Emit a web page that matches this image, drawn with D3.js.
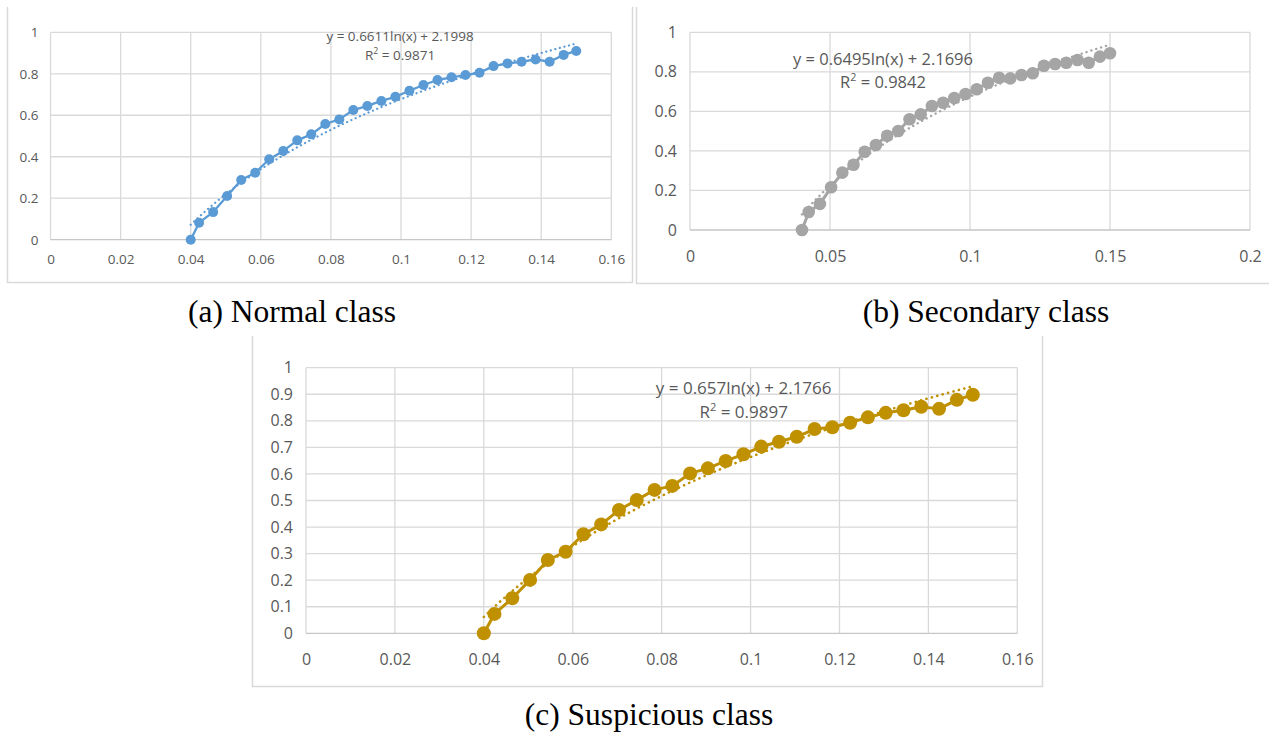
<!DOCTYPE html>
<html><head><meta charset="utf-8">
<script src="https://cdn.jsdelivr.net/npm/d3@7"></script>
<style>
html,body{margin:0;padding:0;background:#fff;}
svg{display:block;}
.tick text{fill:#595959;font-family:"Open Sans",sans-serif;}
</style></head>
<body>
<svg id="chart" width="1269" height="734"></svg>
<script>
// ---- data ----
const xValues = [0.04,0.0424,0.0464,0.0504,0.0544,0.0584,0.0624,0.0664,0.0704,0.0744,
  0.0784,0.0824,0.0864,0.0904,0.0944,0.0984,0.1024,0.1064,0.1104,0.1144,
  0.1184,0.1224,0.1264,0.1304,0.1344,0.1384,0.1424,0.1464,0.15];
const normalY = [0,0.082,0.133,0.211,0.288,0.323,0.388,0.428,0.479,0.508,
  0.558,0.580,0.625,0.645,0.669,0.689,0.718,0.746,0.770,0.783,
  0.794,0.805,0.837,0.850,0.858,0.869,0.858,0.891,0.910];
const secondaryY = [0,0.091,0.132,0.216,0.290,0.330,0.396,0.430,0.477,0.501,
  0.560,0.585,0.627,0.644,0.668,0.688,0.712,0.745,0.770,0.767,
  0.784,0.793,0.831,0.840,0.846,0.860,0.846,0.877,0.894];
const suspiciousY = [0,0.073,0.132,0.201,0.276,0.307,0.373,0.410,0.464,0.502,
  0.540,0.555,0.602,0.621,0.649,0.674,0.703,0.721,0.740,0.769,
  0.776,0.793,0.813,0.830,0.840,0.853,0.845,0.879,0.898];
// trendline coefficients (y = a ln(x) + b) and R² as printed
const normalFit = [0.6611, 2.1998], normalR2 = "0.9871";
const secondaryFit = [0.6495, 2.1696], secondaryR2 = "0.9842";
const suspiciousFit = [0.657, 2.1766], suspiciousR2 = "0.9897";
const trendRange = [0.04, 0.15];
// tick values
const xTicksA = [0,0.02,0.04,0.06,0.08,0.1,0.12,0.14,0.16];
const yTicksA = [0,0.2,0.4,0.6,0.8,1];
const xTicksB = [0,0.05,0.1,0.15,0.2];
const yTicksB = [0,0.2,0.4,0.6,0.8,1];
const xTicksC = [0,0.02,0.04,0.06,0.08,0.1,0.12,0.14,0.16];
const yTicksC = [0,0.1,0.2,0.3,0.4,0.5,0.6,0.7,0.8,0.9,1];
const captions = ["(a) Normal class","(b) Secondary class","(c) Suspicious class"];

const svg = d3.select("#chart");
const fmt = d => String(+d.toFixed(2));

// panel frames
const frame = svg.append("g").attr("fill","none").attr("stroke","#d9d9d9").attr("stroke-width",1.5);
frame.append("path").attr("d","M7.5,7 V282.5 H632.5 V7");
frame.append("path").attr("d","M636.5,7 V283.5 H1269");
frame.append("path").attr("d","M252.5,336 V686.5 H1042.5 V336");

function panel(cfg){
  const g = svg.append("g");
  const x = d3.scaleLinear().domain([cfg.xTicks[0], cfg.xTicks[cfg.xTicks.length-1]]).range([cfg.left, cfg.right]);
  const y = d3.scaleLinear().domain([0,1]).range([cfg.bottom, cfg.top]);
  // gridlines
  g.append("g").selectAll("line").data(cfg.xTicks).join("line")
    .attr("x1",d=>x(d)).attr("x2",d=>x(d)).attr("y1",cfg.top).attr("y2",cfg.bottom)
    .attr("stroke","#d9d9d9").attr("stroke-width",1.3);
  g.append("g").selectAll("line").data(cfg.yTicks).join("line")
    .attr("x1",cfg.left).attr("x2",cfg.right).attr("y1",d=>y(d)).attr("y2",d=>y(d))
    .attr("stroke", d=> d===0 ? "#c6c6c6" : "#d9d9d9").attr("stroke-width",1.3);
  // axes labels
  const xa = g.append("g").attr("transform",`translate(0,${cfg.bottom})`)
    .call(d3.axisBottom(x).tickValues(cfg.xTicks).tickFormat(fmt).tickSize(0).tickPadding(cfg.xPad));
  const ya = g.append("g").attr("transform",`translate(${cfg.left},0)`)
    .call(d3.axisLeft(y).tickValues(cfg.yTicks).tickFormat(fmt).tickSize(0).tickPadding(cfg.yPad));
  [xa,ya].forEach(a=>{a.select(".domain").remove(); a.selectAll("text").style("font-size",cfg.tickFont+"px");});
  // series
  const pts = xValues.map((v,i)=>[v,cfg.ys[i]]);
  g.append("path").datum(pts).attr("fill","none").attr("stroke",cfg.color)
    .attr("stroke-width",cfg.lineW).attr("stroke-linejoin","round")
    .attr("d", d3.line().x(d=>x(d[0])).y(d=>y(d[1])));
  g.append("g").selectAll("circle").data(pts).join("circle")
    .attr("cx",d=>x(d[0])).attr("cy",d=>y(d[1])).attr("r",cfg.r).attr("fill",cfg.color);
  // trendline from printed equation
  const tx = d3.range(0,61).map(i=> trendRange[0] + (trendRange[1]-trendRange[0])*i/60);
  g.append("path").datum(tx).attr("fill","none").attr("stroke",cfg.color)
    .attr("stroke-width",cfg.trendW).attr("stroke-linecap","round").attr("stroke-dasharray",cfg.dash)
    .attr("d", d3.line().x(d=>x(d)).y(d=>y(cfg.fit[0]*Math.log(d)+cfg.fit[1])));
  // equation labels
  const tf = {"font-family":"Open Sans, sans-serif","fill":"#595959","text-anchor":"middle"};
  const e = g.append("text").attr("x",cfg.eqX).attr("y",cfg.eqY).style("font-size",cfg.eqFont+"px")
    .text(`y = ${cfg.fit[0]}ln(x) + ${cfg.fit[1]}`);
  const r = g.append("text").attr("x",cfg.eqX).attr("y",cfg.eqY+cfg.eqGap).style("font-size",cfg.eqFont+"px");
  r.append("tspan").text("R");
  r.append("tspan").attr("dy",-cfg.eqFont*0.4).style("font-size",(cfg.eqFont*0.65)+"px").text("2");
  r.append("tspan").attr("dy",cfg.eqFont*0.4).text(` = ${cfg.r2}`);
  [e,r].forEach(t=>Object.entries(tf).forEach(([k,v])=>t.attr(k,v)));
  // caption
  svg.append("text").attr("x",cfg.capX).attr("y",cfg.capY).attr("text-anchor","middle")
    .attr("font-family","Liberation Serif, Times New Roman, serif").attr("font-size",31.5).attr("fill","#000")
    .text(cfg.caption);
}

panel({xTicks:xTicksA,yTicks:yTicksA,ys:normalY,fit:normalFit,r2:normalR2,color:"#5b9bd5",
  left:50.5,right:611.3,top:32.3,bottom:239.7,xPad:15,yPad:12,tickFont:13.5,
  r:5,lineW:2.3,trendW:2.2,dash:"0.1,4.6",eqX:400,eqY:41,eqGap:18.5,eqFont:13.5,
  caption:captions[0],capX:292,capY:322});
panel({xTicks:xTicksB,yTicks:yTicksB,ys:secondaryY,fit:secondaryFit,r2:secondaryR2,color:"#a5a5a5",
  left:690,right:1250,top:32.3,bottom:230,xPad:21,yPad:13,tickFont:16,
  r:6.3,lineW:3,trendW:2.4,dash:"0.1,5",eqX:883,eqY:64.5,eqGap:23,eqFont:16.5,
  caption:captions[1],capX:986,capY:322});
panel({xTicks:xTicksC,yTicks:yTicksC,ys:suspiciousY,fit:suspiciousFit,r2:suspiciousR2,color:"#bf9000",
  left:306,right:1017.3,top:367.7,bottom:633.3,xPad:20,yPad:13,tickFont:16,
  r:7,lineW:3,trendW:2.6,dash:"0.1,5.5",eqX:743.7,eqY:394,eqGap:23.5,eqFont:17,
  caption:captions[2],capX:649,capY:725});
</script>
</body></html>
